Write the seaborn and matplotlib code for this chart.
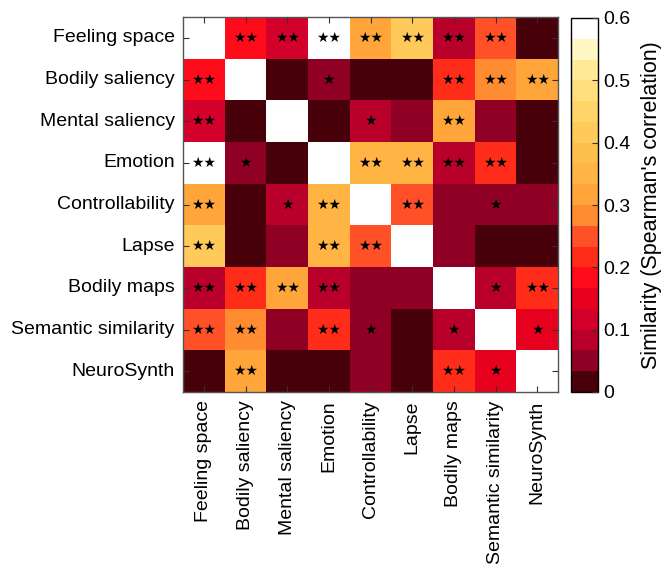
import numpy as np
import pandas as pd
import matplotlib
matplotlib.use('Agg')
from matplotlib import pyplot as plt
from matplotlib.colors import ListedColormap
import seaborn as sns

# measures compared with each other
labels = ['Feeling space', 'Bodily saliency', 'Mental saliency', 'Emotion',
          'Controllability', 'Lapse', 'Bodily maps', 'Semantic similarity',
          'NeuroSynth']

# similarity (spearman), one row per measure
feeling_space = [1.00, 0.18, 0.12, 0.63, 0.32, 0.42, 0.08, 0.25, 0.02]
bodily_saliency = [0.18, 1.00, 0.02, 0.05, 0.02, 0.02, 0.22, 0.28, 0.32]
mental_saliency = [0.12, 0.02, 1.00, 0.02, 0.08, 0.05, 0.32, 0.05, 0.02]
emotion = [0.63, 0.05, 0.02, 1.00, 0.35, 0.35, 0.08, 0.22, 0.02]
controllability = [0.32, 0.02, 0.08, 0.35, 1.00, 0.25, 0.05, 0.05, 0.05]
lapse = [0.42, 0.02, 0.05, 0.35, 0.25, 1.00, 0.05, 0.02, 0.02]
bodily_maps = [0.08, 0.22, 0.32, 0.08, 0.05, 0.05, 1.00, 0.08, 0.22]
semantic_sim = [0.25, 0.28, 0.05, 0.22, 0.05, 0.02, 0.08, 1.00, 0.15]
neurosynth = [0.02, 0.32, 0.02, 0.02, 0.05, 0.02, 0.22, 0.15, 1.00]

# significance marks
sig_feeling_space = ['', '**', '**', '**', '**', '**', '**', '**', '']
sig_bodily_saliency = ['**', '', '', '*', '', '', '**', '**', '**']
sig_mental_saliency = ['**', '', '', '', '*', '', '**', '', '']
sig_emotion = ['**', '*', '', '', '**', '**', '**', '**', '']
sig_controllability = ['**', '', '*', '**', '', '**', '', '*', '']
sig_lapse = ['**', '', '', '**', '**', '', '', '', '']
sig_bodily_maps = ['**', '**', '**', '**', '', '', '', '*', '**']
sig_semantic_sim = ['**', '**', '', '**', '*', '', '*', '', '*']
sig_neurosynth = ['', '**', '', '', '', '', '**', '*', '']

df = pd.DataFrame([feeling_space, bodily_saliency, mental_saliency, emotion,
                   controllability, lapse, bodily_maps, semantic_sim, neurosynth],
                  index=labels, columns=labels)
sig = pd.DataFrame([sig_feeling_space, sig_bodily_saliency, sig_mental_saliency,
                    sig_emotion, sig_controllability, sig_lapse, sig_bodily_maps,
                    sig_semantic_sim, sig_neurosynth], index=labels, columns=labels)
# draw the asterisks as little stars like in the figure
sig_txt = sig.apply(lambda col: col.str.replace('*', '\u2605'))

sns.set_theme(style='white')
plt.rcParams['font.family'] = ['Liberation Sans', 'DejaVu Sans']
plt.rcParams['text.color'] = 'black'
plt.rcParams['axes.labelcolor'] = 'black'
plt.rcParams['xtick.color'] = 'black'
plt.rcParams['ytick.color'] = 'black'

# 18 discrete levels between 0 and 0.6
colores = ['#48000a', '#900024', '#b8002a', '#d2002a', '#e8001f', '#ff0c1c',
           '#ff2c1a', '#ff5028', '#ff8c30', '#ffa53a', '#ffb444', '#ffbf4c',
           '#ffca5a', '#ffd56a', '#ffdf7e', '#ffea98', '#fff7c4', '#ffffff']
cmap = ListedColormap(colores)
cmap.set_over('white')

fig = plt.figure(figsize=(6.63, 5.65), dpi=100)
ax = fig.add_axes([183 / 663, 1 - 392 / 565, 375 / 663, 375 / 565])
cax = fig.add_axes([571 / 663, 1 - 392 / 565, 27 / 663, 374 / 565])

sns.heatmap(df, ax=ax, cbar_ax=cax, cmap=cmap, vmin=0, vmax=0.6,
            annot=sig_txt, fmt='', square=False,
            annot_kws={'color': 'black', 'fontsize': 10, 'family': 'DejaVu Sans'})

ax.set_axisbelow(False)
for s in ax.spines.values():
    s.set_visible(True)
    s.set_color('#555555')
    s.set_linewidth(1)
ax.tick_params(direction='in', length=4, width=0.8, top=True, right=True,
               bottom=True, left=True, labelsize=14, color='#333333',
               labelcolor='black', pad=6)
ax.set_xticklabels(labels, rotation=90)
ax.set_yticklabels(labels, rotation=0)
ax.set_xlabel('')
ax.set_ylabel('')

cbar = ax.collections[0].colorbar
cbar.set_ticks([0, 0.1, 0.2, 0.3, 0.4, 0.5, 0.6])
cbar.set_ticklabels(['0', '0.1', '0.2', '0.3', '0.4', '0.5', '0.6'])
cax.set_axisbelow(False)
cax.tick_params(direction='in', length=4, width=0.8, labelsize=14, color='#333333',
                labelcolor='black', right=True)
cbar.outline.set_visible(True)
cbar.outline.set_edgecolor('black')
cbar.outline.set_linewidth(1)
cbar.set_label("Similarity (Spearman's correlation)", fontsize=15.5, labelpad=8,
               color='black')

plt.savefig('out.png', dpi=100)
